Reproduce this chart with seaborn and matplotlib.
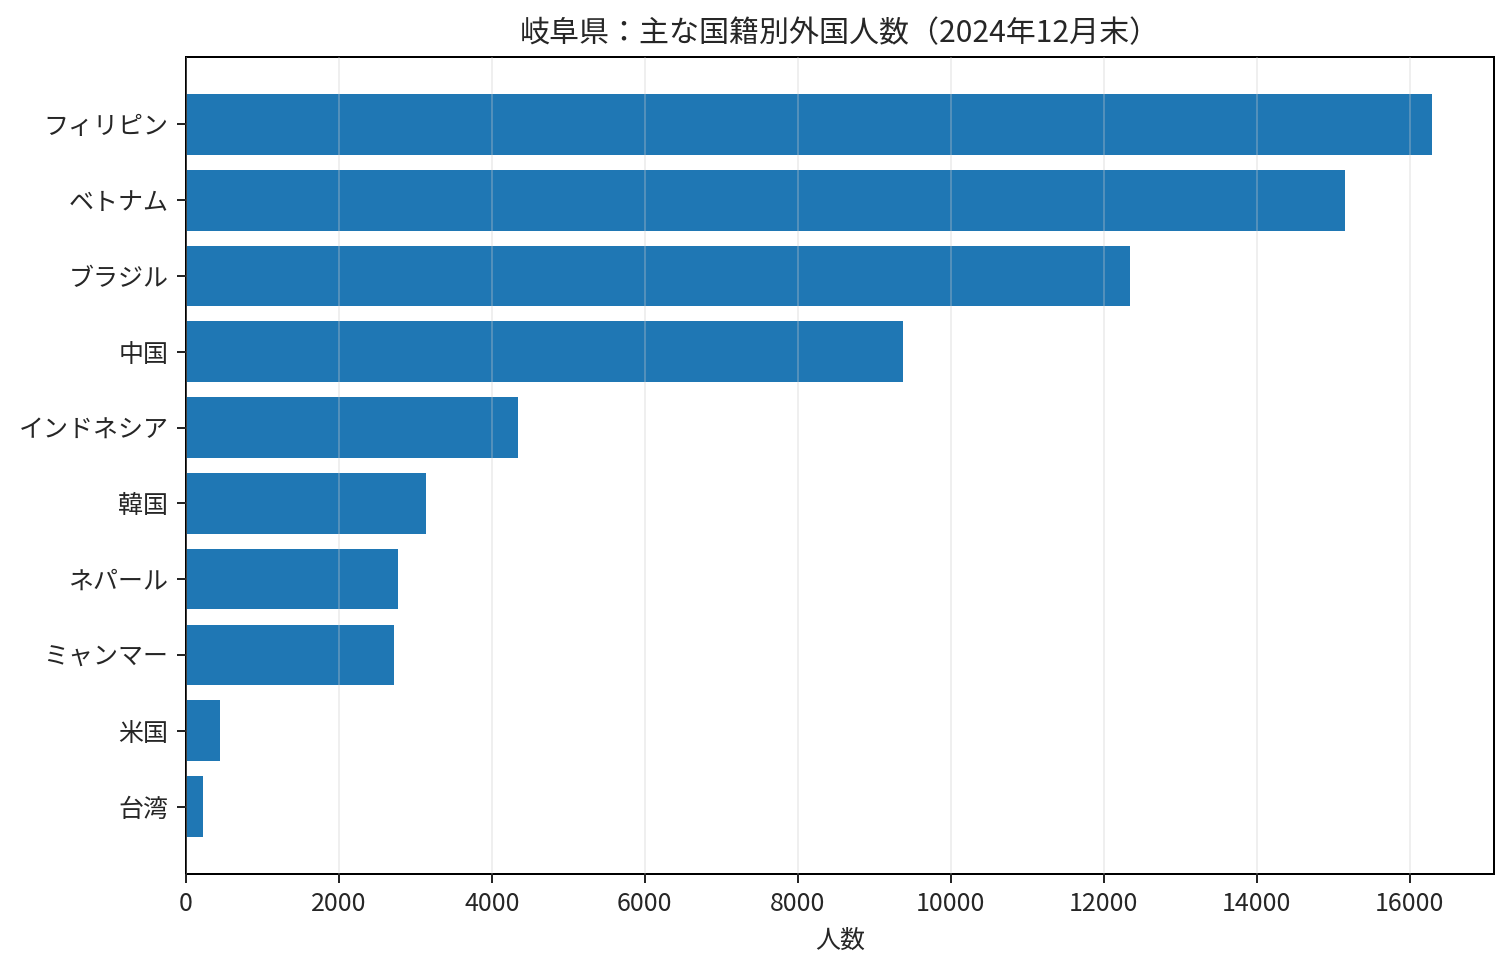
import matplotlib
matplotlib.use("Agg")
import matplotlib.pyplot as plt
import seaborn as sns
import pandas as pd

countries = ["フィリピン", "ベトナム", "ブラジル", "中国", "インドネシア",
             "韓国", "ネパール", "ミャンマー", "米国", "台湾"]
counts = [16288, 15150, 12340, 9373, 4340, 3137, 2771, 2719, 444, 222]

sns.set_style("ticks")
plt.rcParams['font.family'] = ['Noto Sans CJK JP', 'DejaVu Sans']
plt.rcParams['font.size'] = 10

df = pd.DataFrame({"国籍": countries, "人数": counts})

fig, ax = plt.subplots(figsize=(1512 / 180, 974 / 180), dpi=180)
fig.subplots_adjust(left=0.123, right=0.988, top=0.9415, bottom=0.1027)
sns.barplot(data=df, x="人数", y="国籍", orient="h", color="#1f77b4",
            saturation=1, width=0.8, linewidth=0, ax=ax)
ax.grid(axis="x", alpha=0.3)
ax.set_axisbelow(False)
ax.set_ylabel("")
ax.set_xlabel("人数", fontsize=10)
ax.set_title("岐阜県：主な国籍別外国人数（2024年12月末）", fontsize=12)
ax.set_xlim(0, 16288 * 1.05)
ax.set_ylim(9.89, -0.89)
for s in ax.spines.values():
    s.set_visible(True)
    s.set_color("black")
fig.savefig("out.png", dpi=180)
